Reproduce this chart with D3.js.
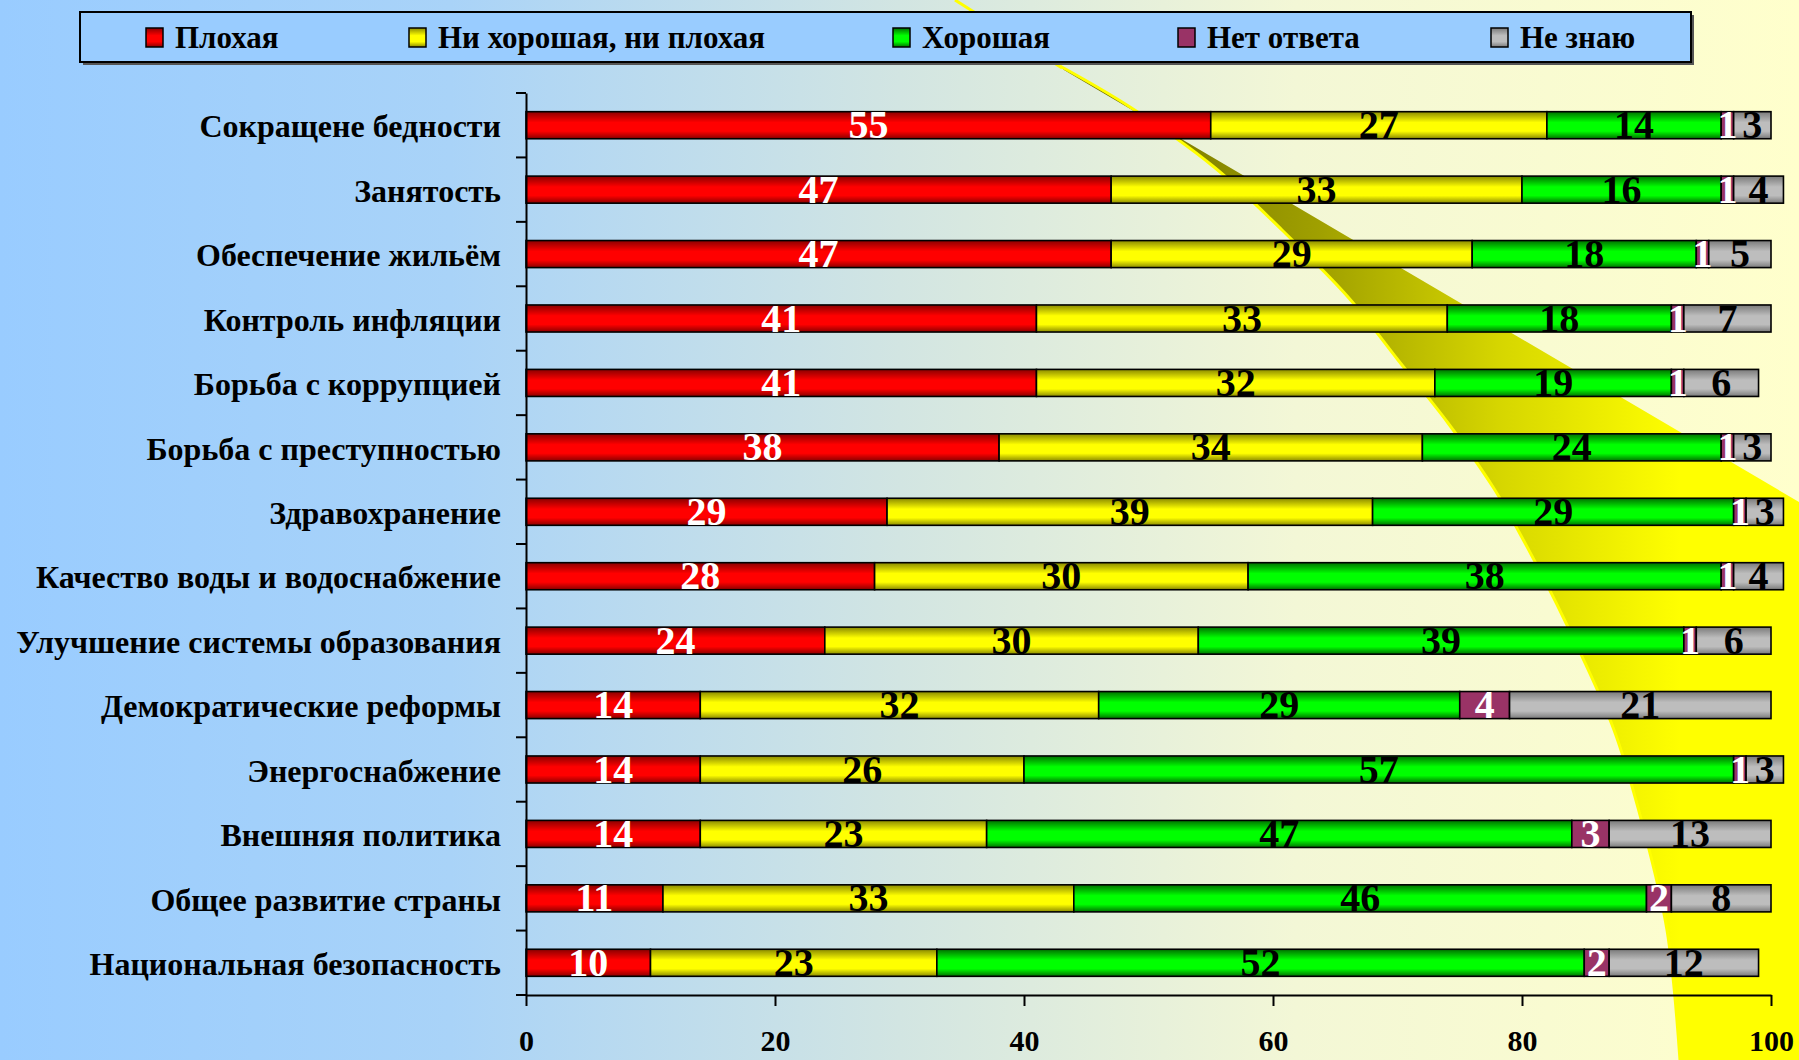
<!DOCTYPE html>
<html>
<head>
<meta charset="utf-8">
<script src="https://cdn.jsdelivr.net/npm/d3@7"></script>
<style>
  body { margin: 0; padding: 0; overflow: hidden; }
  svg { display: block; }
  text { font-family: "Liberation Serif", "Times New Roman", serif; font-weight: bold; }
</style>
</head>
<body>
<svg id="chart"></svg>
<script>
// Categories (top to bottom)
const categories = [
    'Сокращене бедности',
    'Занятость',
    'Обеспечение жильём',
    'Контроль инфляции',
    'Борьба с коррупцией',
    'Борьба с преступностью',
    'Здравохранение',
    'Качество воды и водоснабжение',
    'Улучшение системы образования',
    'Демократические реформы',
    'Энергоснабжение',
    'Внешняя политика',
    'Общее развитие страны',
    'Национальная безопасность'
];

// Series names (legend order)
const seriesNames = ['Плохая', 'Ни хорошая, ни плохая', 'Хорошая', 'Нет ответа', 'Не знаю'];

// Series values, one per category
const bad       = [55, 47, 47, 41, 41, 38, 29, 28, 24, 14, 14, 14, 11, 10];
const neutral   = [27, 33, 29, 33, 32, 34, 39, 30, 30, 32, 26, 23, 33, 23];
const good      = [14, 16, 18, 18, 19, 24, 29, 38, 39, 29, 57, 47, 46, 52];
const noAnswer  = [1, 1, 1, 1, 1, 1, 1, 1, 1, 4, 1, 3, 2, 2];
const dontKnow  = [3, 4, 5, 7, 6, 3, 3, 4, 6, 21, 3, 13, 8, 12];

// X axis tick values
const xTicks = [0, 20, 40, 60, 80, 100];

const W = 1799, H = 1060;
const svg = d3.select('#chart').attr('width', W).attr('height', H);
const defs = svg.append('defs');

// Background gradient (light blue to light yellow)
const bg = defs.append('linearGradient').attr('id', 'bg')
    .attr('x1', 0).attr('x2', 1).attr('y1', 0).attr('y2', 0);
[[0, '#99ccff'], [0.25, '#a9d3f8'], [0.5, '#d2e5e2'], [0.72, '#f3f7d6'], [1, '#ffffcc']]
    .forEach(s => bg.append('stop').attr('offset', s[0]).attr('stop-color', s[1]));
svg.append('rect').attr('width', W).attr('height', H).attr('fill', 'url(#bg)');

// Decorative yellow swoosh
const sw = defs.append('linearGradient').attr('id', 'swoosh')
    .attr('gradientUnits', 'userSpaceOnUse')
    .attr('x1', 1080).attr('x2', 1680).attr('y1', 0).attr('y2', 0);
[[0, '#6a6a00'], [0.4, '#a0a000'], [0.7, '#d6d600'], [1, '#ffff00']]
    .forEach(s => sw.append('stop').attr('offset', s[0]).attr('stop-color', s[1]));

const leftEdge = [[1060, 66], [1130, 107], [1214, 167], [1282, 230], [1348, 297], [1398, 360],
    [1448, 423], [1493, 487], [1519, 532], [1566, 623], [1614, 730], [1644, 830], [1667, 930], [1680, 1060]];
const curve = d3.line().curve(d3.curveCatmullRom);
const swooshPath = curve(leftEdge) + 'L1799,1060L1799,502L1064,70Z';
svg.append('path').attr('d', swooshPath).attr('fill', 'url(#swoosh)');
svg.append('path').attr('d', curve(leftEdge)).attr('fill', 'none')
    .attr('stroke', '#ffff00').attr('stroke-width', 3);
svg.append('line').attr('x1', 955).attr('y1', 0).attr('x2', 1062).attr('y2', 68)
    .attr('stroke', '#ffff00').attr('stroke-width', 3);

// Bar colour gradients (dark edge -> bright middle)
const colors = [
    { dark: '#8a0000', bright: '#ff0000', text: '#ffffff' },
    { dark: '#8a8a00', bright: '#ffff00', text: '#000000' },
    { dark: '#007000', bright: '#00ff00', text: '#000000' },
    { dark: '#993366', bright: '#993366', text: '#ffffff' },
    { dark: '#7a7a7a', bright: '#bdbdbd', text: '#000000' }
];
colors.forEach((c, i) => {
    const g = defs.append('linearGradient').attr('id', 'g' + i)
        .attr('x1', 0).attr('x2', 0).attr('y1', 0).attr('y2', 1);
    g.append('stop').attr('offset', 0).attr('stop-color', c.dark);
    g.append('stop').attr('offset', 0.4).attr('stop-color', c.bright);
    g.append('stop').attr('offset', 0.72).attr('stop-color', c.bright);
    g.append('stop').attr('offset', 1).attr('stop-color', c.dark);
});

// Scales
const x = d3.scaleLinear().domain([0, 100]).range([526, 1771]);
const y = d3.scaleBand().domain(categories).range([93, 995])
    .paddingInner(0.58).paddingOuter(0.29);

// Stack the data
const rows = categories.map((c, i) => ({
    cat: c, s0: bad[i], s1: neutral[i], s2: good[i], s3: noAnswer[i], s4: dontKnow[i]
}));
const stack = d3.stack().keys(['s0', 's1', 's2', 's3', 's4'])(rows);

const layers = svg.append('g').selectAll('g')
    .data(stack).enter().append('g')
    .attr('fill', (d, i) => `url(#g${i})`);

layers.selectAll('rect')
    .data(d => d).enter().append('rect')
    .attr('x', d => x(d[0]))
    .attr('y', d => y(d.data.cat))
    .attr('width', d => x(d[1]) - x(d[0]))
    .attr('height', y.bandwidth())
    .attr('stroke', '#000')
    .attr('stroke-width', 1.6);

// Value labels
stack.forEach((layer, i) => {
    svg.append('g').selectAll('text')
        .data(layer).enter().append('text')
        .attr('x', d => (x(d[0]) + x(d[1])) / 2)
        .attr('y', d => y(d.data.cat) + y.bandwidth() / 2 + 13)
        .attr('text-anchor', 'middle')
        .attr('font-size', 40)
        .attr('fill', colors[i].text)
        .text(d => d[1] - d[0]);
});

// X axis
const xAxis = svg.append('g')
    .attr('transform', 'translate(0,995)')
    .call(d3.axisBottom(x).tickValues(xTicks).tickSize(11).tickPadding(24).tickSizeOuter(0));
xAxis.select('.domain').attr('stroke', '#000').attr('stroke-width', 2);
xAxis.selectAll('.tick line').attr('stroke', '#000').attr('stroke-width', 2);
xAxis.selectAll('.tick text')
    .attr('font-size', 30).attr('fill', '#000')
    .attr('font-family', '"Liberation Serif", "Times New Roman", serif')
    .attr('font-weight', 'bold');

// Y axis (labels), boundary ticks drawn separately
const yAxis = svg.append('g')
    .attr('transform', 'translate(526,0)')
    .call(d3.axisLeft(y).tickSize(0).tickPadding(25));
yAxis.select('.domain').attr('stroke', '#000').attr('stroke-width', 2);
yAxis.selectAll('.tick text')
    .attr('font-size', 32).attr('fill', '#000').attr('dy', '0.38em')
    .attr('font-family', '"Liberation Serif", "Times New Roman", serif')
    .attr('font-weight', 'bold');

const bounds = categories.map(c => y(c) - y.step() * y.paddingInner() / 2).concat([995]);
svg.append('g').selectAll('line')
    .data(bounds).enter().append('line')
    .attr('x1', 516).attr('x2', 526)
    .attr('y1', d => d).attr('y2', d => d)
    .attr('stroke', '#000').attr('stroke-width', 2);

// Legend
const legendX = [146, 409, 893, 1178, 1491];
const legend = svg.append('g');
legend.append('rect').attr('x', 83).attr('y', 15).attr('width', 1611).attr('height', 50)
    .attr('fill', '#555');
legend.append('rect').attr('x', 80).attr('y', 12).attr('width', 1611).attr('height', 50)
    .attr('fill', '#99ccff').attr('stroke', '#000').attr('stroke-width', 2);
seriesNames.forEach((name, i) => {
    legend.append('rect')
        .attr('x', legendX[i]).attr('y', 28).attr('width', 17).attr('height', 19)
        .attr('fill', `url(#g${i})`).attr('stroke', '#000').attr('stroke-width', 1.5);
    legend.append('text')
        .attr('x', legendX[i] + 29).attr('y', 48)
        .attr('font-size', 31).attr('fill', '#000')
        .text(name);
});
</script>
</body>
</html>
